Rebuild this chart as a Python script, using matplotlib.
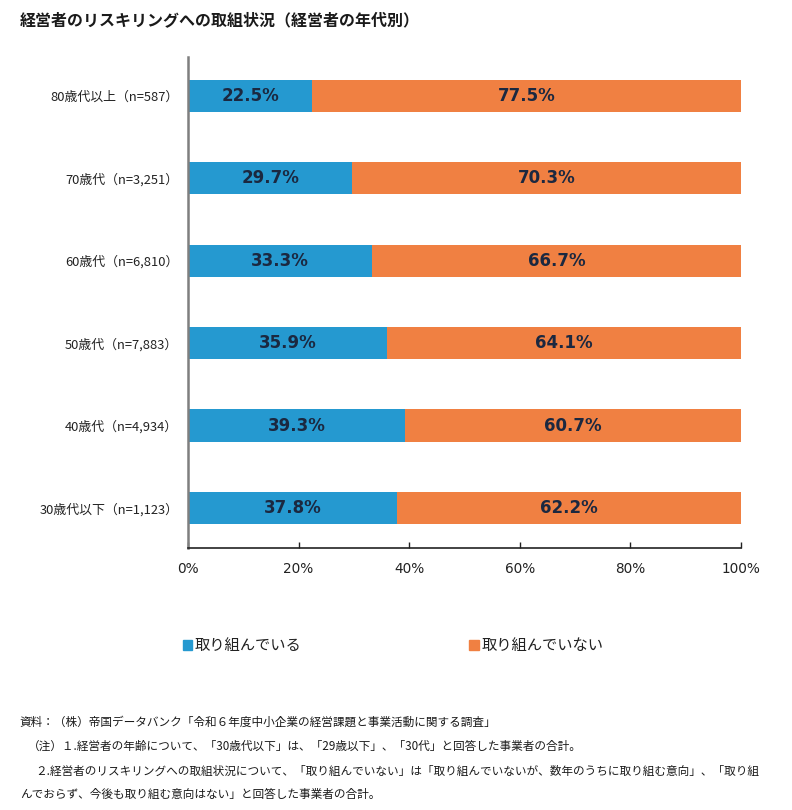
import matplotlib.pyplot as plt
from matplotlib.patches import Rectangle

plt.rcParams['font.family'] = ['Noto Sans CJK JP', 'DejaVu Sans']

# bottom to top
categories = ['30歳代以下（n=1,123）', '40歳代（n=4,934）', '50歳代（n=7,883）',
              '60歳代（n=6,810）', '70歳代（n=3,251）', '80歳代以上（n=587）']
doing = [37.8, 39.3, 35.9, 33.3, 29.7, 22.5]
not_doing = [62.2, 60.7, 64.1, 66.7, 70.3, 77.5]
series_names = ['取り組んでいる', '取り組んでいない']
xticks = [0, 20, 40, 60, 80, 100]

title = '経営者のリスキリングへの取組状況（経営者の年代別）'
notes = [
    (0.025, 0.108, '資料：（株）帝国データバンク「令和６年度中小企業の経営課題と事業活動に関する調査」'),
    (0.035, 0.079, '（注）１.経営者の年齢について、「30歳代以下」は、「29歳以下」、「30代」と回答した事業者の合計。'),
    (0.045, 0.048, '２.経営者のリスキリングへの取組状況について、「取り組んでいない」は「取り組んでいないが、数年のうちに取り組む意向」、「取り組'),
    (0.025, 0.019, 'んでおらず、今後も取り組む意向はない」と回答した事業者の合計。'),
]

blue = '#2599d0'
orange = '#f08042'
label_color = '#1b2840'

fig = plt.figure(figsize=(7.92, 8.1), dpi=100)
ax = fig.add_axes([0.2374, 0.3235, 0.6982, 0.6061])

y = list(range(len(categories)))
ax.barh(y, doing, height=0.39, color=blue)
ax.barh(y, not_doing, left=doing, height=0.39, color=orange)

for i in y:
    ax.text(doing[i] / 2, i, '%.1f%%' % doing[i], ha='center', va='center',
            fontsize=12, fontweight='bold', color=label_color,
            family=['DejaVu Sans'])
    ax.text(doing[i] + not_doing[i] / 2, i, '%.1f%%' % not_doing[i],
            ha='center', va='center', fontsize=12, fontweight='bold',
            color=label_color, family=['DejaVu Sans'])

ax.set_xlim(0, 100)
ax.set_ylim(-0.485, 5.47)
ax.set_yticks(y)
ax.set_yticklabels(categories, fontsize=9.3, color='#222222')
ax.tick_params(axis='y', length=0, pad=7)
ax.set_xticks(xticks)
ax.set_xticklabels(['%d%%' % t for t in xticks], fontsize=9.8,
                   family=['DejaVu Sans'], color='#222222')
ax.tick_params(axis='x', direction='in', length=4, width=1, pad=10,
               color='#222222')

ax.spines['top'].set_visible(False)
ax.spines['right'].set_visible(False)
ax.spines['left'].set_color('#7f7f7f')
ax.spines['left'].set_linewidth(1.8)
ax.spines['bottom'].set_color('#222222')
ax.spines['bottom'].set_linewidth(1.2)

fig.text(0.025, 0.975, title, fontsize=11.5, fontweight='bold', va='center',
         ha='left', color='#1a1a1a')

# legend
fig.patches.append(Rectangle((0.2305, 0.197), 0.0125, 0.013,
                             transform=fig.transFigure, color=blue))
fig.text(0.246, 0.2035, series_names[0], fontsize=11, va='center',
         color='#222222')
fig.patches.append(Rectangle((0.5925, 0.197), 0.0125, 0.013,
                             transform=fig.transFigure, color=orange))
fig.text(0.608, 0.2035, series_names[1], fontsize=11, va='center',
         color='#222222')

for nx, ny, s in notes:
    fig.text(nx, ny, s, fontsize=8.4, va='center', ha='left', color='#1a1a1a')

fig.savefig('out.png', dpi=100)
